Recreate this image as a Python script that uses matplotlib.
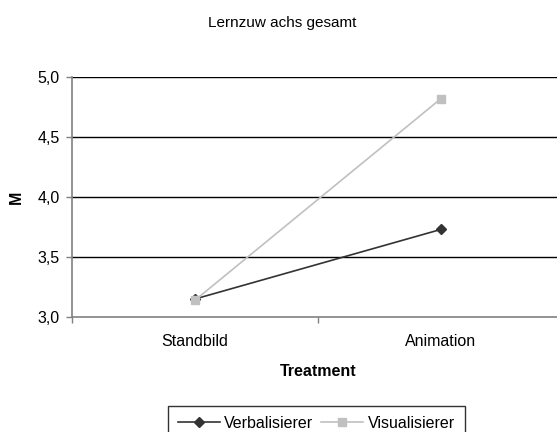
import matplotlib
matplotlib.use("Agg")
import matplotlib.pyplot as plt

categories = ["Standbild", "Animation"]
verbalisierer = [3.15, 3.73]
visualisierer = [3.14, 4.82]
y_ticks = [3.0, 3.5, 4.0, 4.5, 5.0]
y_tick_labels = ["3,0", "3,5", "4,0", "4,5", "5,0"]

plt.rcParams['font.family'] = ['Liberation Sans', 'DejaVu Sans']
fig = plt.figure(figsize=(5.57, 4.32), dpi=100)
ax = fig.add_axes([72/557, 1-317/432, 1-72/557, (317-77)/432])

x = list(range(len(categories)))
for yv in y_ticks[1:]:
    ax.axhline(yv, color='black', lw=1.0, zorder=1)

l1, = ax.plot(x, verbalisierer, color='#333333', lw=1.2, marker='D', markersize=5.5,
              markerfacecolor='#333333', markeredgecolor='#333333', label='Verbalisierer', zorder=3)
l2, = ax.plot(x, visualisierer, color='#C0C0C0', lw=1.2, marker='s', markersize=6,
              markerfacecolor='#C0C0C0', markeredgecolor='#C0C0C0', label='Visualisierer', zorder=4)

ax.set_xlim(-0.5, 1.4715)
ax.set_ylim(3.0, 5.0)
ax.set_yticks(y_ticks)
ax.set_yticklabels(y_tick_labels, fontsize=11.5)
ax.set_xticks([-0.5, 0.5])
ax.set_xticklabels([])
ax.set_xticks(x, minor=True)
ax.set_xticklabels(categories, minor=True, fontsize=11.5)
ax.tick_params(axis='x', which='minor', length=0, pad=12)
ax.tick_params(axis='x', which='major', length=4, width=1, color='#808080', direction='out')
ax.tick_params(axis='y', length=4, width=1, color='#808080', direction='out', pad=5)

for s in ['top', 'right']:
    ax.spines[s].set_visible(False)
for s in ['left', 'bottom']:
    ax.spines[s].set_color('#808080')
    ax.spines[s].set_linewidth(1.2)

fig.text(282/557, 1-23/432, "Lernzuw achs gesamt", ha='center', va='center', fontsize=11)
fig.text(318/557, 1-372/432, "Treatment", ha='center', va='center', fontsize=11.5, weight='bold')
fig.text(16/557, 1-197/432, "M", ha='center', va='center', fontsize=11.5, weight='bold', rotation=90)

leg = fig.legend(handles=[l1, l2], loc='upper center', bbox_to_anchor=(316.5/557, 1-406/432),
                 ncol=2, fontsize=11.5, frameon=True, fancybox=False, edgecolor='black',
                 handlelength=2.6, columnspacing=0.5, handletextpad=0.3, borderpad=0.6,
                 borderaxespad=0)
leg.get_frame().set_linewidth(1.0)

fig.savefig("out.png", dpi=100)
